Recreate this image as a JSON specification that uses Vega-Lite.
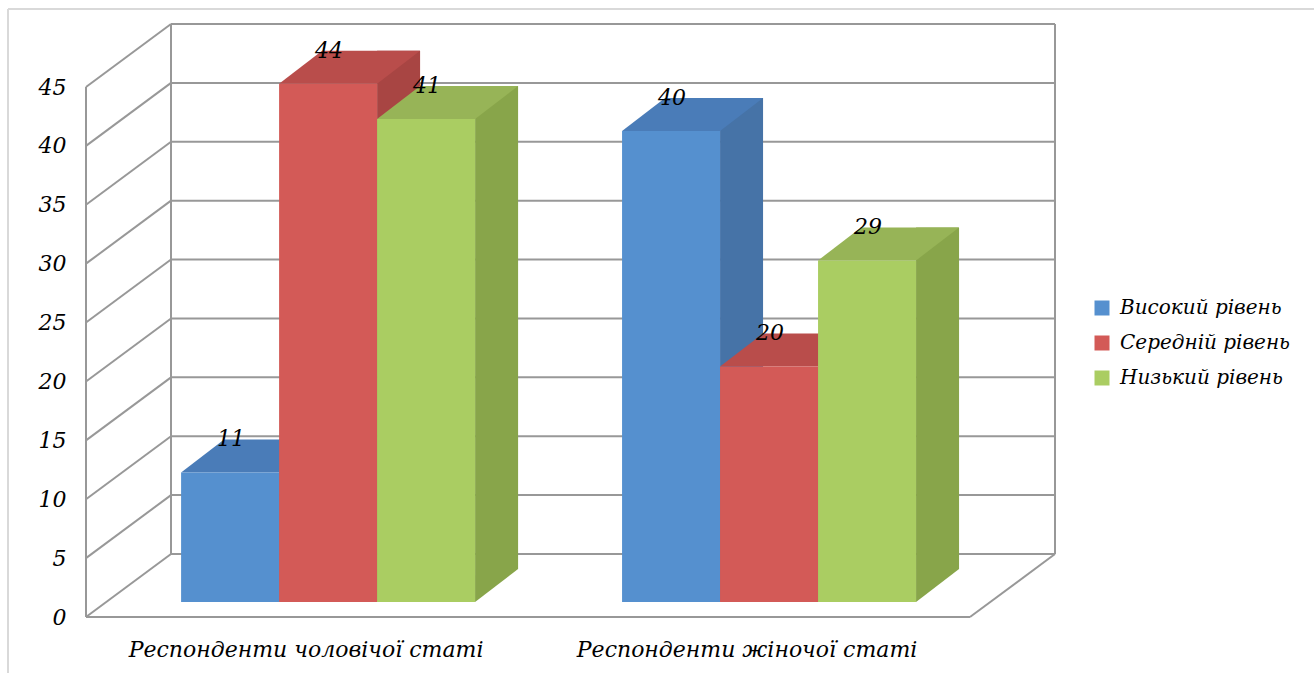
{
  "$schema": "https://vega.github.io/schema/vega-lite/v6.json",
  "width": 884,
  "height": 530,
  "autosize": {"type": "none"},
  "padding": {"left": 86, "top": 87, "right": 344, "bottom": 56},
  "background": "white",
  "config": {"view": {"stroke": null}, "font": "DejaVu Serif"},
  "datasets": {
    "bars": [
      {"group": "Респонденти чоловічої статі", "level": "Високий рівень", "value": 11},
      {"group": "Респонденти чоловічої статі", "level": "Середній рівень", "value": 44},
      {"group": "Респонденти чоловічої статі", "level": "Низький рівень", "value": 41},
      {"group": "Респонденти жіночої статі", "level": "Високий рівень", "value": 40},
      {"group": "Респонденти жіночої статі", "level": "Середній рівень", "value": 20},
      {"group": "Респонденти жіночої статі", "level": "Низький рівень", "value": 29}
    ],
    "ticks": [{"t": 0}, {"t": 5}, {"t": 10}, {"t": 15}, {"t": 20}, {"t": 25}, {"t": 30}, {"t": 35}, {"t": 40}, {"t": 45}],
    "one": [{"k": 1}]
  },
  "resolve": {"scale": {"x": "independent", "color": "independent", "xOffset": "independent"}},
  "layer": [
    {
      "data": {"name": "one"},
      "mark": {"type": "rule", "color": "#d9d9d9", "strokeWidth": 2, "xOffset": -78, "x2Offset": 344, "yOffset": -78},
      "encoding": {
        "x": {"datum": 0, "type": "quantitative", "scale": {"domain": [0, 1]}, "axis": null},
        "x2": {"datum": 1},
        "y": {"datum": 45, "type": "quantitative", "scale": {"domain": [0, 45], "nice": false, "zero": false},
          "axis": {"values": [0, 5, 10, 15, 20, 25, 30, 35, 40, 45], "domain": false, "ticks": false, "grid": false, "title": null, "labelFont": "DejaVu Serif", "labelFontStyle": "italic", "labelFontSize": 22, "labelColor": "#000000", "labelPadding": 20}}
      }
    },
    {
      "data": {"name": "one"},
      "mark": {"type": "rule", "color": "#d9d9d9", "strokeWidth": 2, "xOffset": -78, "yOffset": -78, "y2Offset": 60},
      "encoding": {
        "x": {"datum": 0, "type": "quantitative", "scale": {"domain": [0, 1]}, "axis": null},
        "y": {"datum": 45, "type": "quantitative", "scale": {"domain": [0, 45], "nice": false, "zero": false},
          "axis": {"values": [0, 5, 10, 15, 20, 25, 30, 35, 40, 45], "domain": false, "ticks": false, "grid": false, "title": null, "labelFont": "DejaVu Serif", "labelFontStyle": "italic", "labelFontSize": 22, "labelColor": "#000000", "labelPadding": 20}},
        "y2": {"datum": 0}
      }
    },
    {
      "data": {"name": "ticks"},
      "mark": {"type": "rule", "color": "#989898", "strokeWidth": 2, "xOffset": 85, "x2Offset": 85, "yOffset": -63},
      "encoding": {
        "y": {"field": "t", "type": "quantitative", "scale": {"domain": [0, 45], "nice": false, "zero": false},
          "axis": {"values": [0, 5, 10, 15, 20, 25, 30, 35, 40, 45], "domain": false, "ticks": false, "grid": false, "title": null, "labelFont": "DejaVu Serif", "labelFontStyle": "italic", "labelFontSize": 22, "labelColor": "#000000", "labelPadding": 20}},
        "x": {"datum": 0, "type": "quantitative", "scale": {"domain": [0, 1]}, "axis": null},
        "x2": {"datum": 1}
      }
    },
    {
      "data": {"name": "one"},
      "mark": {"type": "rule", "color": "#989898", "strokeWidth": 2, "xOffset": 85, "yOffset": -63, "y2Offset": -63},
      "encoding": {
        "x": {"datum": 0, "type": "quantitative", "scale": {"domain": [0, 1]}, "axis": null},
        "y": {"datum": 0, "type": "quantitative", "scale": {"domain": [0, 45], "nice": false, "zero": false},
          "axis": {"values": [0, 5, 10, 15, 20, 25, 30, 35, 40, 45], "domain": false, "ticks": false, "grid": false, "title": null, "labelFont": "DejaVu Serif", "labelFontStyle": "italic", "labelFontSize": 22, "labelColor": "#000000", "labelPadding": 20}},
        "y2": {"datum": 45}
      }
    },
    {
      "data": {"name": "one"},
      "mark": {"type": "rule", "color": "#989898", "strokeWidth": 2, "xOffset": 85, "yOffset": -63, "y2Offset": -63},
      "encoding": {
        "x": {"datum": 1, "type": "quantitative", "scale": {"domain": [0, 1]}, "axis": null},
        "y": {"datum": 0, "type": "quantitative", "scale": {"domain": [0, 45], "nice": false, "zero": false},
          "axis": {"values": [0, 5, 10, 15, 20, 25, 30, 35, 40, 45], "domain": false, "ticks": false, "grid": false, "title": null, "labelFont": "DejaVu Serif", "labelFontStyle": "italic", "labelFontSize": 22, "labelColor": "#000000", "labelPadding": 20}},
        "y2": {"datum": 45}
      }
    },
    {
      "data": {"name": "ticks"},
      "mark": {"type": "rule", "color": "#989898", "strokeWidth": 2, "x2Offset": 85, "y2Offset": -63},
      "encoding": {
        "y": {"field": "t", "type": "quantitative", "scale": {"domain": [0, 45], "nice": false, "zero": false},
          "axis": {"values": [0, 5, 10, 15, 20, 25, 30, 35, 40, 45], "domain": false, "ticks": false, "grid": false, "title": null, "labelFont": "DejaVu Serif", "labelFontStyle": "italic", "labelFontSize": 22, "labelColor": "#000000", "labelPadding": 20}},
        "y2": {"field": "t"},
        "x": {"datum": 0, "type": "quantitative", "scale": {"domain": [0, 1]}, "axis": null},
        "x2": {"datum": 0}
      }
    },
    {
      "data": {"name": "one"},
      "mark": {"type": "rule", "color": "#989898", "strokeWidth": 2},
      "encoding": {
        "x": {"datum": 0, "type": "quantitative", "scale": {"domain": [0, 1]}, "axis": null},
        "y": {"datum": 0, "type": "quantitative", "scale": {"domain": [0, 45], "nice": false, "zero": false},
          "axis": {"values": [0, 5, 10, 15, 20, 25, 30, 35, 40, 45], "domain": false, "ticks": false, "grid": false, "title": null, "labelFont": "DejaVu Serif", "labelFontStyle": "italic", "labelFontSize": 22, "labelColor": "#000000", "labelPadding": 20}},
        "y2": {"datum": 45}
      }
    },
    {
      "data": {"name": "one"},
      "mark": {"type": "rule", "color": "#989898", "strokeWidth": 2},
      "encoding": {
        "x": {"datum": 0, "type": "quantitative", "scale": {"domain": [0, 1]}, "axis": null},
        "x2": {"datum": 1},
        "y": {"datum": 0, "type": "quantitative", "scale": {"domain": [0, 45], "nice": false, "zero": false},
          "axis": {"values": [0, 5, 10, 15, 20, 25, 30, 35, 40, 45], "domain": false, "ticks": false, "grid": false, "title": null, "labelFont": "DejaVu Serif", "labelFontStyle": "italic", "labelFontSize": 22, "labelColor": "#000000", "labelPadding": 20}}
      }
    },
    {
      "data": {"name": "one"},
      "mark": {"type": "rule", "color": "#989898", "strokeWidth": 2, "x2Offset": 85, "y2Offset": -63},
      "encoding": {
        "x": {"datum": 1, "type": "quantitative", "scale": {"domain": [0, 1]}, "axis": null},
        "x2": {"datum": 1},
        "y": {"datum": 0, "type": "quantitative", "scale": {"domain": [0, 45], "nice": false, "zero": false},
          "axis": {"values": [0, 5, 10, 15, 20, 25, 30, 35, 40, 45], "domain": false, "ticks": false, "grid": false, "title": null, "labelFont": "DejaVu Serif", "labelFontStyle": "italic", "labelFontSize": 22, "labelColor": "#000000", "labelPadding": 20}},
        "y2": {"datum": 0}
      }
    },
    {
      "data": {"name": "bars"},
      "mark": {"type": "bar", "width": 43, "yOffset": -48, "y2Offset": -48},
      "encoding": {
        "x": {"field": "group", "type": "nominal", "sort": ["Респонденти чоловічої статі", "Респонденти жіночої статі"], "scale": {"paddingInner": 0.3333, "paddingOuter": 0.169, "align": 0.638}, "axis": null},
        "xOffset": {"field": "level", "type": "nominal", "sort": ["Високий рівень", "Середній рівень", "Низький рівень"], "scale": {"type": "band", "paddingInner": 0, "paddingOuter": 0, "range": [70.5, 364.5]}},
        "y": {"field": "value", "type": "quantitative", "scale": {"domain": [0, 45], "nice": false, "zero": false},
          "axis": {"values": [0, 5, 10, 15, 20, 25, 30, 35, 40, 45], "domain": false, "ticks": false, "grid": false, "title": null, "labelFont": "DejaVu Serif", "labelFontStyle": "italic", "labelFontSize": 22, "labelColor": "#000000", "labelPadding": 20}},
        "y2": {"datum": 0},
        "color": {"field": "level", "type": "nominal", "sort": ["Високий рівень", "Середній рівень", "Низький рівень"], "scale": {"range": ["#4673A7", "#A84543", "#88A54A"]}, "legend": null}
      }
    },
    {
      "data": {"name": "bars"},
      "mark": {"type": "point", "shape": "M49,0 L49,-33 L92,-33 Z", "size": 4, "filled": true, "opacity": 1, "strokeWidth": 0, "yOffset": -15},
      "encoding": {
        "x": {"field": "group", "type": "nominal", "sort": ["Респонденти чоловічої статі", "Респонденти жіночої статі"], "scale": {"paddingInner": 0.3333, "paddingOuter": 0.169, "align": 0.638}, "axis": null},
        "xOffset": {"field": "level", "type": "nominal", "sort": ["Високий рівень", "Середній рівень", "Низький рівень"], "scale": {"type": "band", "paddingInner": 0, "paddingOuter": 0}},
        "y": {"datum": 0, "type": "quantitative", "scale": {"domain": [0, 45], "nice": false, "zero": false},
          "axis": {"values": [0, 5, 10, 15, 20, 25, 30, 35, 40, 45], "domain": false, "ticks": false, "grid": false, "title": null, "labelFont": "DejaVu Serif", "labelFontStyle": "italic", "labelFontSize": 22, "labelColor": "#000000", "labelPadding": 20}},
        "color": {"field": "level", "type": "nominal", "sort": ["Високий рівень", "Середній рівень", "Низький рівень"], "scale": {"range": ["#4673A7", "#A84543", "#88A54A"]}, "legend": null}
      }
    },
    {
      "data": {"name": "bars"},
      "mark": {"type": "point", "shape": "M-49,0 L49,0 L92,-33 L-6,-33 Z", "size": 4, "filled": true, "opacity": 1, "strokeWidth": 0, "yOffset": -15},
      "encoding": {
        "x": {"field": "group", "type": "nominal", "sort": ["Респонденти чоловічої статі", "Респонденти жіночої статі"], "scale": {"paddingInner": 0.3333, "paddingOuter": 0.169, "align": 0.638}, "axis": null},
        "xOffset": {"field": "level", "type": "nominal", "sort": ["Високий рівень", "Середній рівень", "Низький рівень"], "scale": {"type": "band", "paddingInner": 0, "paddingOuter": 0}},
        "y": {"field": "value", "type": "quantitative", "scale": {"domain": [0, 45], "nice": false, "zero": false},
          "axis": {"values": [0, 5, 10, 15, 20, 25, 30, 35, 40, 45], "domain": false, "ticks": false, "grid": false, "title": null, "labelFont": "DejaVu Serif", "labelFontStyle": "italic", "labelFontSize": 22, "labelColor": "#000000", "labelPadding": 20}},
        "color": {"field": "level", "type": "nominal", "sort": ["Високий рівень", "Середній рівень", "Низький рівень"], "scale": {"range": ["#4A7CB8", "#B94D4B", "#97B457"]}, "legend": null}
      }
    },
    {
      "data": {"name": "bars"},
      "mark": {"type": "bar", "yOffset": -15, "y2Offset": -15},
      "encoding": {
        "x": {"field": "group", "type": "nominal", "sort": ["Респонденти чоловічої статі", "Респонденти жіночої статі"], "scale": {"paddingInner": 0.3333, "paddingOuter": 0.169, "align": 0.638},
          "axis": {"domain": false, "ticks": false, "grid": false, "title": null, "labelAngle": 0, "labelFont": "DejaVu Serif", "labelFontStyle": "italic", "labelFontSize": 22, "labelColor": "#000000", "labelPadding": 22, "labelOffset": -22, "labelLimit": 0}},
        "xOffset": {"field": "level", "type": "nominal", "sort": ["Високий рівень", "Середній рівень", "Низький рівень"], "scale": {"type": "band", "paddingInner": 0, "paddingOuter": 0}},
        "y": {"field": "value", "type": "quantitative", "scale": {"domain": [0, 45], "nice": false, "zero": false},
          "axis": {"values": [0, 5, 10, 15, 20, 25, 30, 35, 40, 45], "domain": false, "ticks": false, "grid": false, "title": null, "labelFont": "DejaVu Serif", "labelFontStyle": "italic", "labelFontSize": 22, "labelColor": "#000000", "labelPadding": 20}},
        "y2": {"datum": 0},
        "color": {"field": "level", "type": "nominal", "sort": ["Високий рівень", "Середній рівень", "Низький рівень"], "scale": {"range": ["#5590CF", "#D35A57", "#AACD62"]},
          "legend": {"title": null, "orient": "none", "legendX": 1006, "legendY": 211, "symbolType": "square", "symbolSize": 225, "symbolStrokeWidth": 0, "labelFont": "DejaVu Serif", "labelFontStyle": "italic", "labelFontSize": 20, "labelColor": "#000000", "rowPadding": 15, "labelOffset": 8, "labelLimit": 300, "padding": 0}}
      }
    },
    {
      "data": {"name": "bars"},
      "mark": {"type": "text", "yOffset": -48, "dx": 1, "baseline": "middle", "align": "center", "font": "DejaVu Serif", "fontStyle": "italic", "fontSize": 22, "color": "#000000"},
      "encoding": {
        "x": {"field": "group", "type": "nominal", "sort": ["Респонденти чоловічої статі", "Респонденти жіночої статі"], "scale": {"paddingInner": 0.3333, "paddingOuter": 0.169, "align": 0.638}, "axis": null},
        "xOffset": {"field": "level", "type": "nominal", "sort": ["Високий рівень", "Середній рівень", "Низький рівень"], "scale": {"type": "band", "paddingInner": 0, "paddingOuter": 0}},
        "y": {"field": "value", "type": "quantitative", "scale": {"domain": [0, 45], "nice": false, "zero": false},
          "axis": {"values": [0, 5, 10, 15, 20, 25, 30, 35, 40, 45], "domain": false, "ticks": false, "grid": false, "title": null, "labelFont": "DejaVu Serif", "labelFontStyle": "italic", "labelFontSize": 22, "labelColor": "#000000", "labelPadding": 20}},
        "text": {"field": "value", "type": "quantitative"}
      }
    }
  ]
}
